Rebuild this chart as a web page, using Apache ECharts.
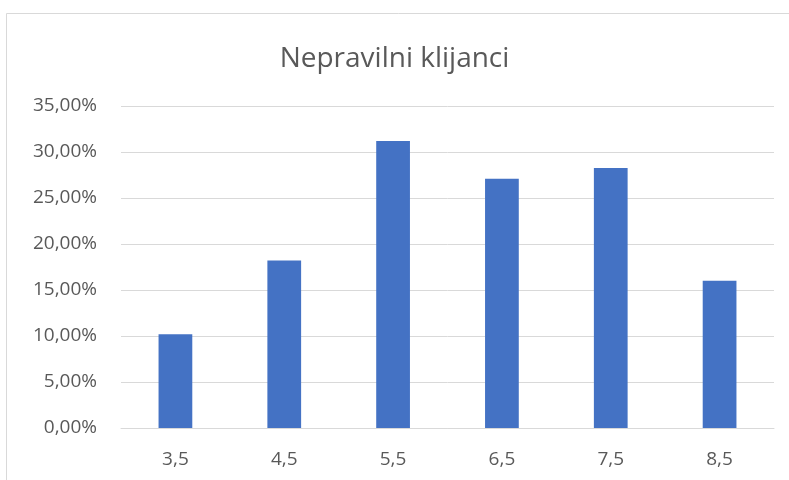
<!DOCTYPE html>
<html><head><meta charset="utf-8">
<script src="https://cdn.jsdelivr.net/npm/echarts@6/dist/echarts.min.js"></script>
<style>html,body{margin:0;padding:0;background:#fff}#c{width:789px;height:480px}</style>
</head><body><div id="c"></div>
<script>
const categories = ['3,5','4,5','5,5','6,5','7,5','8,5'];
const values = [10.2, 18.2, 31.2, 27.1, 28.25, 16.0];
const titleText = 'Nepravilni klijanci';

const chart = echarts.init(document.getElementById('c'), null, {renderer:'canvas'});
chart.setOption({
  animation:false,
  backgroundColor:'#ffffff',
  graphic:[{type:'rect', shape:{x:6.5,y:13.5,width:800,height:500}, style:{fill:'none', stroke:'#d9d9d9', lineWidth:1}, silent:true}],
  title:{text:titleText, left:'center', top:40, textStyle:{fontFamily:'Open Sans', fontWeight:'normal', fontSize:28, color:'#595959'}},
  grid:{left:121, right:15, top:106, bottom:52, containLabel:false},
  xAxis:{type:'category', data:categories,
    axisLine:{show:true, lineStyle:{color:'#d9d9d9', width:1}},
    axisTick:{show:false},
    axisLabel:{color:'#595959', fontSize:19, fontFamily:'Open Sans', margin:22}},
  yAxis:{type:'value', min:0, max:35, interval:5,
    axisLine:{show:false}, axisTick:{show:false},
    splitLine:{lineStyle:{color:'#d9d9d9', width:1}},
    axisLabel:{color:'#595959', fontSize:19, fontFamily:'Open Sans', margin:24,
      formatter:v=>v.toFixed(2).replace('.',',')+'%'}},
  series:[{type:'bar', data:values, barWidth:'31%', itemStyle:{color:'#4472C4'}}]
});
</script></body></html>
